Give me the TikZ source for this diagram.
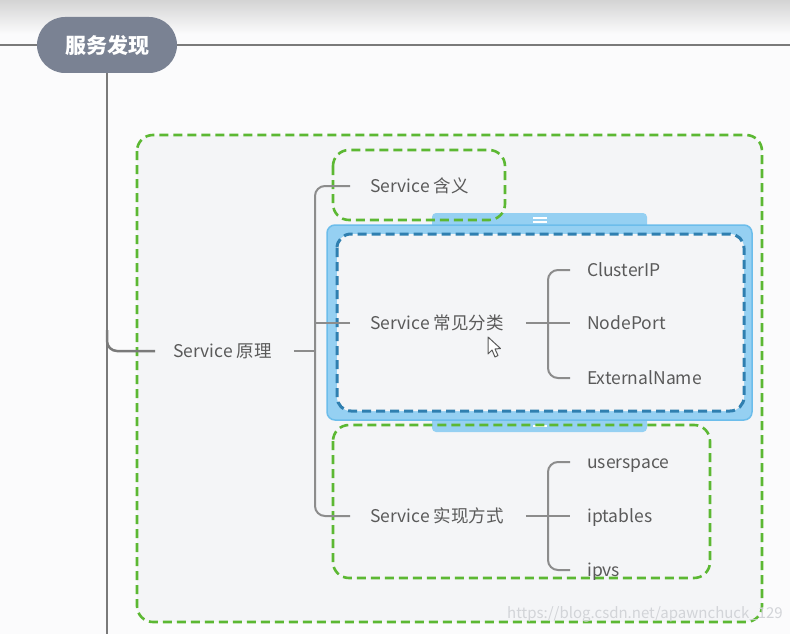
\documentclass[tikz,border=0pt]{standalone}
\usepackage{fontspec}
\setmainfont{Noto Sans CJK SC}
\usetikzlibrary{calc}
\definecolor{bg}{HTML}{FBFBFC}
\definecolor{topgray}{HTML}{D4D4D4}
\definecolor{inbg}{HTML}{F4F5F7}
\definecolor{rootfill}{HTML}{7A8293}
\definecolor{linegray}{HTML}{8C8C8C}
\definecolor{maingray}{HTML}{7A7A7A}
\definecolor{txt}{HTML}{5A5A5A}
\definecolor{grn}{HTML}{5CB833}
\definecolor{selfill}{HTML}{95D0F2}
\definecolor{seldraw}{HTML}{6CBDEB}
\definecolor{seldash}{HTML}{2F7FB0}
\definecolor{wm}{HTML}{D2D4D8}
\begin{document}
\begin{tikzpicture}[x=1pt,y=-1pt,
  conn/.style={draw=linegray,line width=2pt},
  mainline/.style={draw=maingray,line width=2.5pt},
  leaf/.style={anchor=west,inner sep=0pt,text=txt,text height=13pt,text depth=0pt,font=\fontsize{17.5}{20}\selectfont},
  gbox/.style={draw=grn,line width=2.6pt,dash pattern=on 9pt off 5pt,rounded corners=16pt},
  rootbox/.style={fill=rootfill,rounded corners=28pt,minimum width=140pt,minimum height=56pt,inner sep=0pt,text=white,font=\fontsize{21}{24}\selectfont\bfseries}]
\useasboundingbox (0,0) rectangle (790,634);
% background
\fill[bg] (0,0) rectangle (790,634);
\shade[top color=topgray,bottom color=bg] (0,0) rectangle (790,34);
% outer dashed box
\fill[inbg,rounded corners=16pt] (137,135) rectangle (762,622);
\draw[gbox] (137,135) rectangle (762,622);
% green box fills
\fill[inbg,rounded corners=16pt] (333,150) rectangle (505,220);
\fill[inbg,rounded corners=16pt] (333,425) rectangle (710,578);
% selection highlight
\fill[selfill,rounded corners=4pt] (432,213) rectangle (647,232);
\fill[selfill,rounded corners=4pt] (432,412) rectangle (647,432);
\filldraw[fill=selfill,draw=seldraw,line width=1.5pt,rounded corners=8pt] (327,225) rectangle (752,420);
\fill[white] (533,217) rectangle (547,219);
\fill[white] (533,221) rectangle (547,223);
\fill[white] (533,425) rectangle (547,427);
\filldraw[fill=inbg,draw=seldash,line width=3pt,dash pattern=on 9pt off 5pt,rounded corners=14pt] (337,234) rectangle (744,411);
% green box outlines
\draw[gbox] (333,150) rectangle (505,220);
\draw[gbox] (333,425) rectangle (710,578);
% nodes
\node[rootbox] (root) at (107,45) {服务发现};
\node[leaf] (p) at (173,351) {Service 原理};
\node[leaf] (m1) at (370,186) {Service 含义};
\node[leaf] (m2) at (370,323) {Service 常见分类};
\node[leaf] (m3) at (370,516) {Service 实现方式};
\node[leaf] (c1) at (587,270) {ClusterIP};
\node[leaf] (c2) at (587,323) {NodePort};
\node[leaf] (c3) at (587,378) {ExternalName};
\node[leaf] (d1) at (587,462) {userspace};
\node[leaf] (d2) at (587,516) {iptables};
\node[leaf] (d3) at (587,570) {ipvs};
\coordinate (lft) at (0,45);
\coordinate (rgt) at (790,45);
\coordinate (bot) at (107,634);
\coordinate (b1) at (315,351);
\coordinate (s2) at (548,323);
\coordinate (s3) at (548,516);
% main lines
\draw[mainline] (lft) -- (root.west);
\draw[mainline] (root.east) -- (rgt);
\draw[mainline] (root.south) -- (bot);
\draw[mainline,rounded corners=10pt] (107,330) |- ([xshift=-18pt]p.west);
% level 2
\draw[conn] ([xshift=22pt]p.east) -- (b1);
\draw[conn,rounded corners=10pt] ([xshift=-20pt]m1.west) -| (b1) |- ([xshift=-20pt]m3.west);
\draw[conn,rounded corners=8pt] ([xshift=-20pt]m2.west) -- (b1 |- m2.west);
% level 3
\draw[conn,rounded corners=10pt] ([xshift=-17pt]c1.west) -| (s2) |- ([xshift=-17pt]c3.west);
\draw[conn] ([xshift=22pt]m2.east) -- ([xshift=-17pt]c2.west);
\draw[conn,rounded corners=10pt] ([xshift=-17pt]d1.west) -| (s3) |- ([xshift=-17pt]d3.west);
\draw[conn] ([xshift=22pt]m3.east) -- ([xshift=-17pt]d2.west);
% cursor
\filldraw[fill=white,draw=txt,line width=1pt,line join=round] (488,337) -- (488,354) -- (492,350) -- (495,357) -- (498,355.5) -- (495,349) -- (500.5,348.5) -- cycle;
% watermark
\node[anchor=west,inner sep=0pt,text=wm,font=\fontsize{15}{18}\selectfont] (wmk) at (507,614) {https://blog.csdn.net/apawnchuck\_129};
\end{tikzpicture}
\end{document}
